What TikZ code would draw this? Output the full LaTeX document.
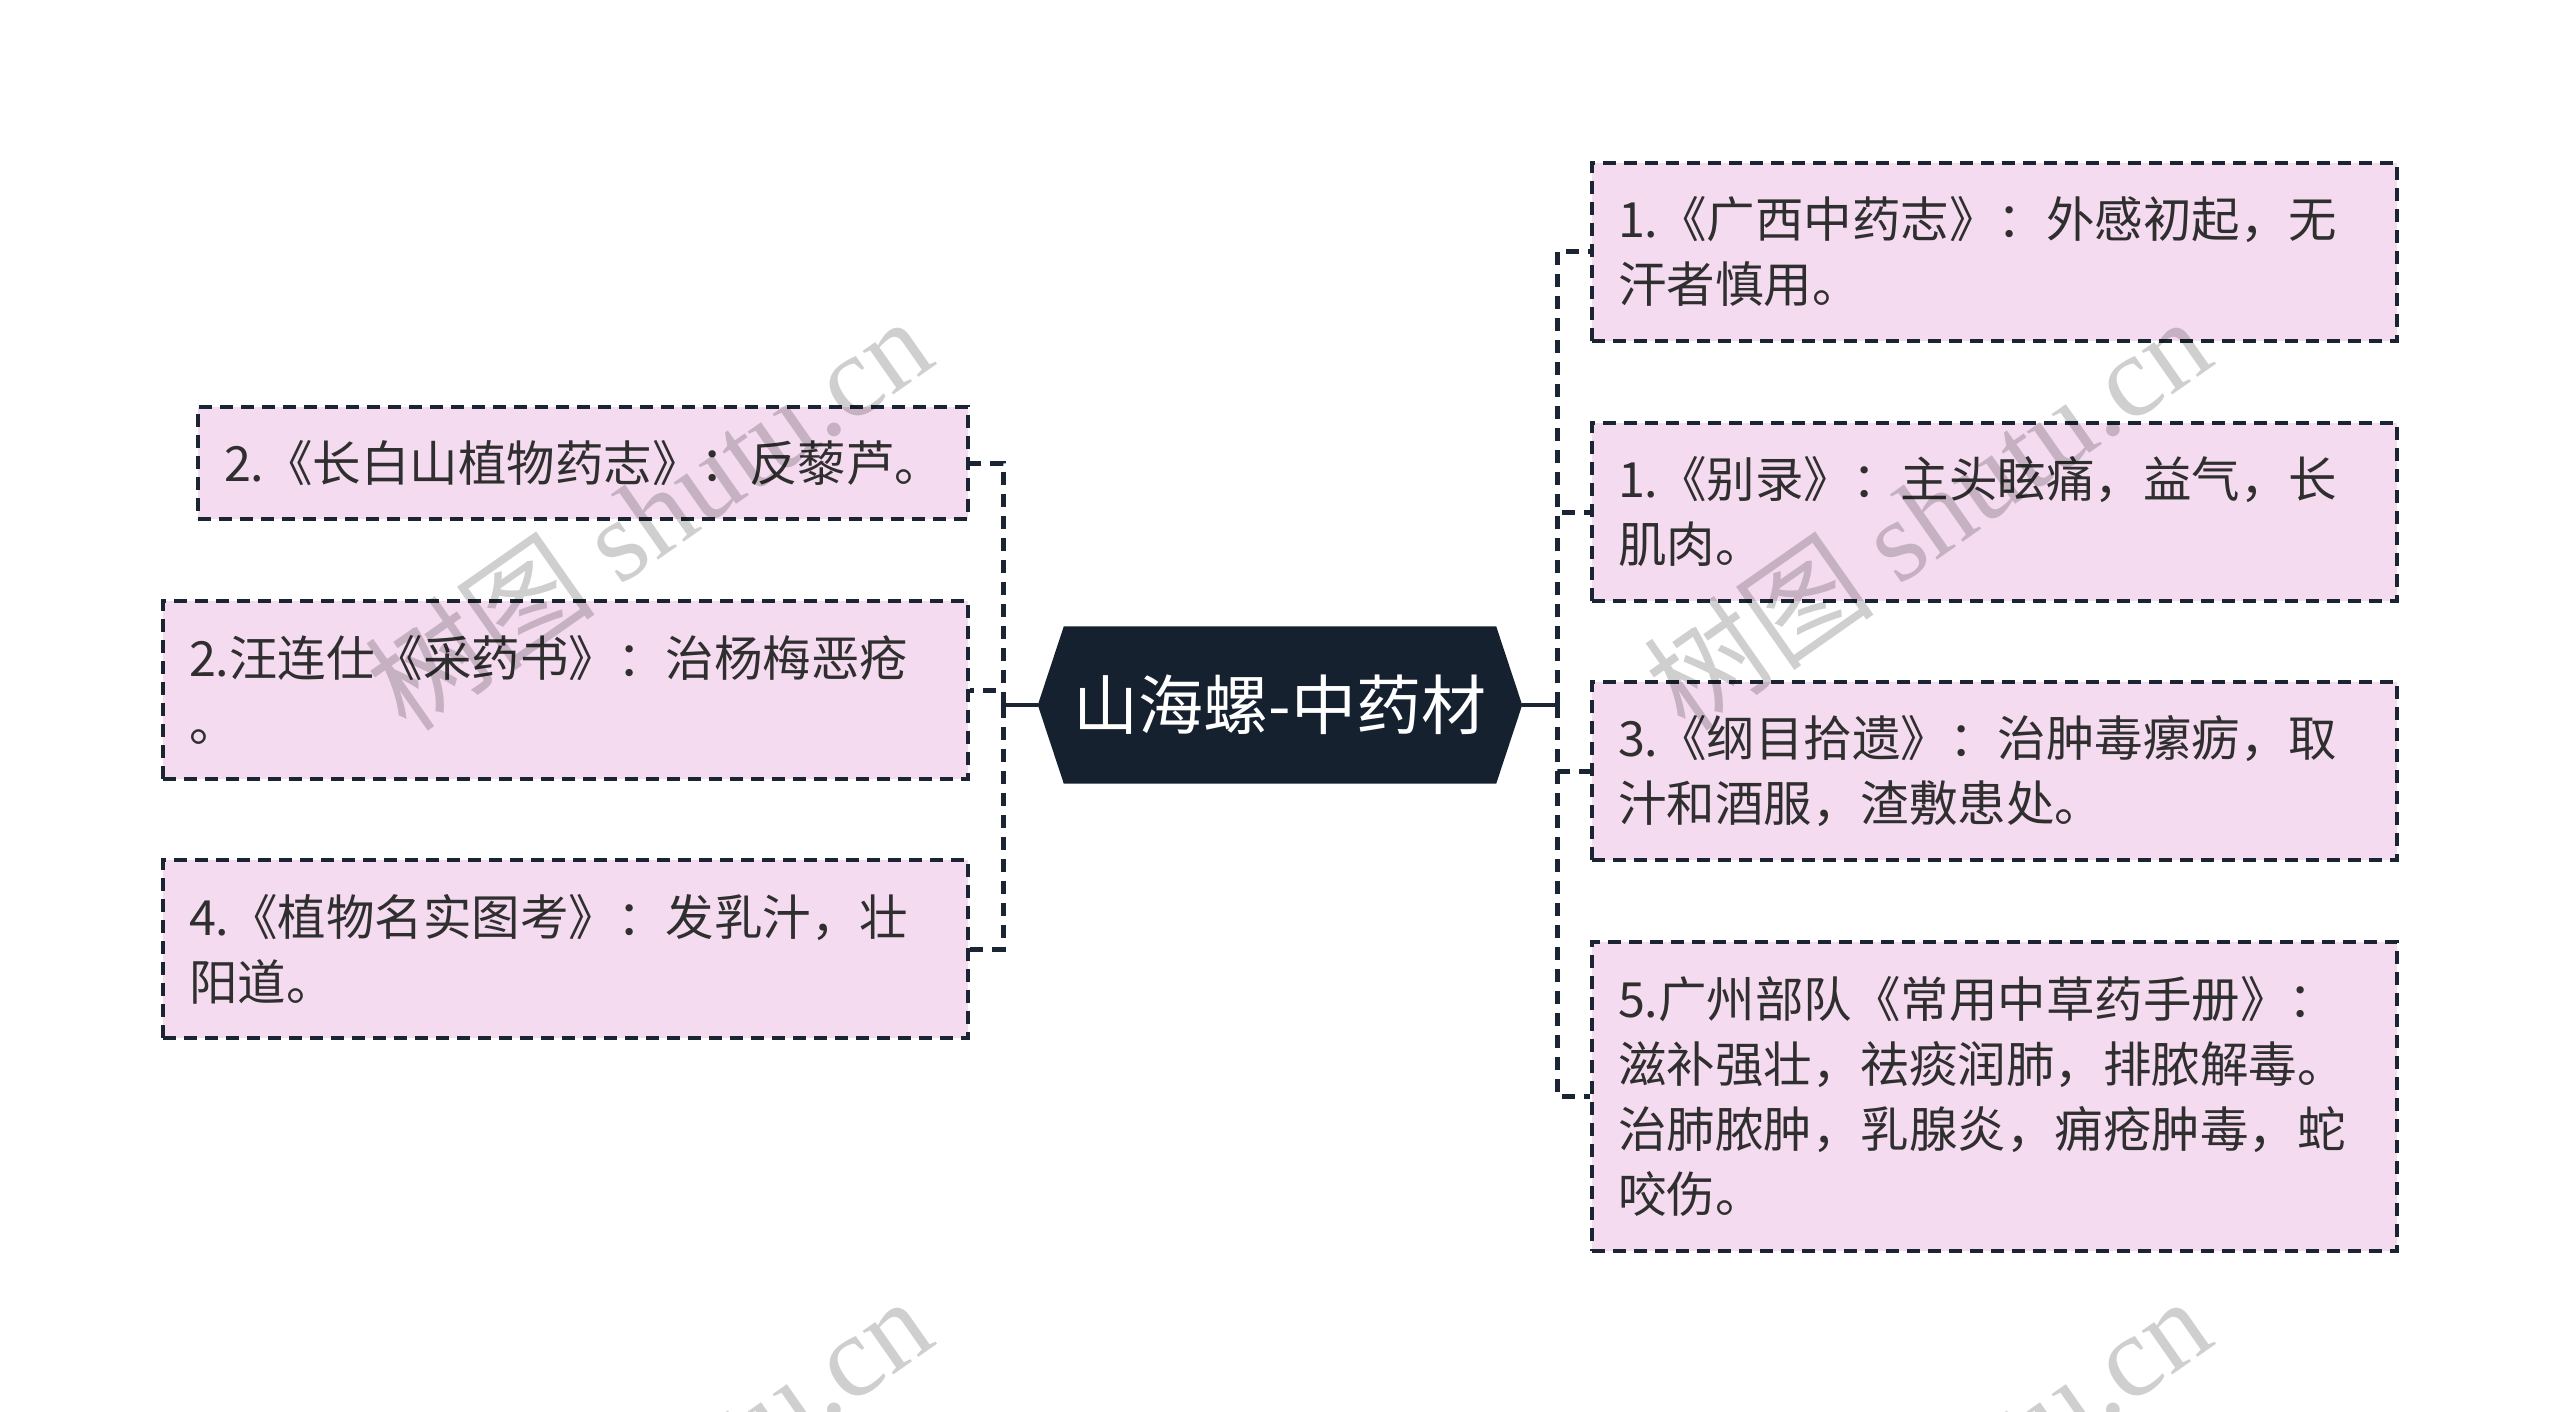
\documentclass[tikz,border=0pt]{standalone}
\usepackage{fontspec}
\setmainfont{Noto Sans CJK SC}
\newfontfamily\wmserif{Liberation Serif}
\usetikzlibrary{backgrounds,calc}

\definecolor{boxfill}{HTML}{F5DBF0}
\definecolor{boxline}{HTML}{1A2433}
\definecolor{hubfill}{HTML}{16212F}
\definecolor{txt}{HTML}{2F2F2F}

\tikzset{
  leaf/.style={draw=boxline, fill=boxfill, line width=3.6pt, dash pattern=on 13pt off 8pt,
    text=txt, font=\fontsize{48.5}{65}\selectfont, align=left, inner xsep=26pt, inner ysep=0pt, anchor=center},
  conn/.style={draw=boxline, line width=5pt, dash pattern=on 13pt off 9pt},
  hubline/.style={draw=boxline, line width=4.5pt},
  hub/.style={text=white, font=\fontsize{65}{72}\selectfont, minimum width=484pt, minimum height=157pt, inner sep=0pt},
  wm/.style={text=black, opacity=0.19, rotate=35, font=\fontsize{116}{116}\selectfont}
}

\begin{document}
\begin{tikzpicture}[x=1pt,y=-1pt]
\useasboundingbox (0,0) rectangle (2560,1412);
\clip (0,0) rectangle (2560,1412);

% hub
\node[hub] (c) at (1280,705) {山海螺-中药材};
\begin{scope}[on background layer]
\fill[white] (0,0) rectangle (2560,1412);
\fill[hubfill] (c.west) -- ([xshift=26pt]c.north west) -- ([xshift=-26pt]c.north east) -- (c.east)
  -- ([xshift=-26pt]c.south east) -- ([xshift=26pt]c.south west) -- cycle;
\end{scope}

% left leaves
\node[leaf, text width=718pt, minimum height=112pt] (L1) at (583,463) {2.《长白山植物药志》：反藜芦。};
\node[leaf, text width=753pt, minimum height=178pt] (L2) at (565.5,690) {2.汪连仕《采药书》：治杨梅恶疮\\。};
\node[leaf, text width=753pt, minimum height=178pt] (L3) at (565.5,949) {4.《植物名实图考》：发乳汁，壮\\阳道。};

% right leaves
\node[leaf, text width=753pt, minimum height=178pt] (R1) at (1994.5,252) {1.《广西中药志》：外感初起，无\\汗者慎用。};
\node[leaf, text width=753pt, minimum height=178pt] (R2) at (1994.5,512) {1.《别录》：主头眩痛，益气，长\\肌肉。};
\node[leaf, text width=753pt, minimum height=178pt] (R3) at (1994.5,771) {3.《纲目拾遗》：治肿毒瘰疬，取\\汁和酒服，渣敷患处。};
\node[leaf, text width=753pt, minimum height=309pt] (R4) at (1994.5,1096.5) {5.广州部队《常用中草药手册》：\\滋补强壮，祛痰润肺，排脓解毒。\\治肺脓肿，乳腺炎，痈疮肿毒，蛇\\咬伤。};

% buses
\coordinate (lb) at (1003,705);
\coordinate (rb) at (1557,705);
\draw[hubline] (c.west) -- (lb);
\draw[hubline] (c.east) -- (rb);
\draw[conn] (lb) |- (L1.east);
\draw[conn] (lb) |- (L2.east);
\draw[conn] (lb) |- (L3.east);
\draw[conn] (rb) |- (R1.west);
\draw[conn] (rb) |- (R2.west);
\draw[conn] (rb) |- (R3.west);
\draw[conn] (rb) |- (R4.west);

% watermarks
\node[wm] (w1) at (648,513) {树图 {\wmserif shutu.cn}};
\node[wm] (w2) at (1927,513) {树图 {\wmserif shutu.cn}};
\node[wm] (w3) at (648,1493) {树图 {\wmserif shutu.cn}};
\node[wm] (w4) at (1927,1493) {树图 {\wmserif shutu.cn}};
\end{tikzpicture}
\end{document}
